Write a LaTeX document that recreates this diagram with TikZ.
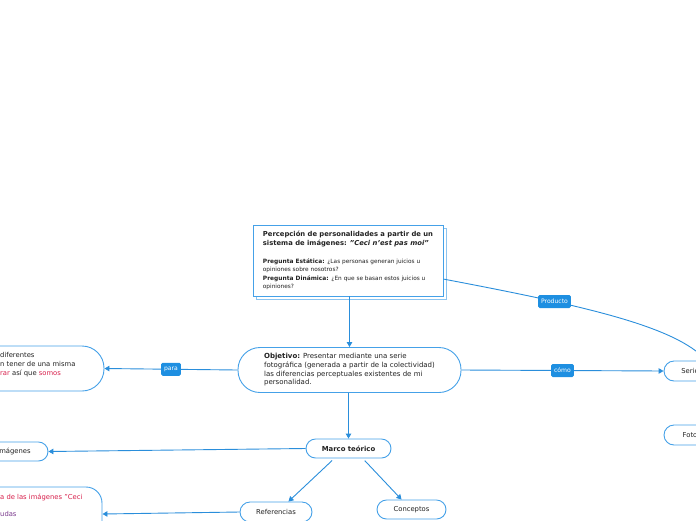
\documentclass[tikz,border=0pt]{standalone}
\usepackage{fontspec}
\setmainfont{DejaVu Sans}
\usetikzlibrary{arrows.meta,shadows}
\definecolor{nodeblue}{HTML}{45A1E8}
\definecolor{shadeblue}{HTML}{8CC4F0}
\definecolor{linkblue}{HTML}{2A8EDB}
\definecolor{tagblue}{HTML}{1E8FE1}
\definecolor{txtred}{HTML}{D8204C}
\definecolor{txtpurple}{HTML}{7B3A8E}
\definecolor{txtdark}{HTML}{222222}
\tikzset{
  pill/.style={draw=nodeblue, line width=0.9pt, fill=white, text=txtdark, inner sep=0pt,
    font=\fontsize{6.8}{8.7}\selectfont},
  topbox/.style={draw=nodeblue, line width=0.9pt, fill=white, text=txtdark, inner sep=0pt,
    font=\fontsize{6.8}{9}\selectfont,
    copy shadow={shadow xshift=3pt, shadow yshift=-3pt, draw=shadeblue, fill=white, line width=0.9pt}},
  link/.style={draw=linkblue, line width=0.9pt, -{Triangle[length=5pt,width=5.5pt]}},
  tag/.style={fill=tagblue, text=white, rounded corners=1.5pt, inner xsep=3pt, inner ysep=0pt,
    minimum height=13pt, font=\fontsize{6.1}{7}\selectfont},
  plaintext/.style={text=txtdark, inner sep=0pt, align=left, font=\fontsize{6.8}{8.7}\selectfont}
}
\begin{document}
\begin{tikzpicture}[x=1pt,y=-1pt]
\useasboundingbox (0,0) rectangle (696,520);
\clip (0,0) rectangle (696,520);

% main title box
\node[topbox, minimum width=190pt, minimum height=71pt, align=left] (top) at (348,260.5)
 {\bfseries Percepción de personalidades a partir de un\\
  \bfseries sistema de imágenes: \textit{"Ceci n'est pas moi"}\\[9pt]
  \fontsize{5.9}{9}\selectfont\bfseries Pregunta Estática: \mdseries\fontsize{5.8}{9}\selectfont ¿Las personas generan juicios u\\[-0.7pt]
  \fontsize{5.8}{9}\selectfont opiniones sobre nosotros?\\[-0.7pt]
  \fontsize{5.9}{9}\selectfont\bfseries Pregunta Dinámica: \mdseries\fontsize{5.8}{9}\selectfont ¿En que se basan estos juicios u\\[-0.7pt]
  \fontsize{5.8}{9}\selectfont opiniones?};

% objective
\node[pill, minimum width=223pt, minimum height=45pt, rounded corners=22pt, align=left,
      font=\fontsize{7}{8.7}\selectfont] (obj) at (349.5,370)
 {\textbf{Objetivo:} Presentar mediante una serie\\
  fotográfica (generada a partir de la colectividad)\\
  las diferencias perceptuales existentes de mi\\
  personalidad.};

% left node (cropped)
\node[pill, minimum width=224pt, minimum height=45pt, rounded corners=22pt] (lft) at (-8,368.5) {};
\node[plaintext, anchor=west] (lfttext) at (0,364.5)
 {diferentes\\ n tener de una misma\\ \textcolor{txtred}{rar} así que \textcolor{txtred}{somos}};

% right nodes (cropped)
\node[pill, minimum width=52pt, minimum height=20pt, rounded corners=10pt] (serie) at (690,371) {Serie};
\node[pill, minimum width=52pt, minimum height=20pt, rounded corners=10pt] (foto) at (690,435) {Foto};

% marco teorico
\node[pill, minimum width=85pt, minimum height=19pt, rounded corners=9.5pt, font=\fontsize{6.9}{8}\selectfont\bfseries] (marco) at (348.5,448.5) {Marco teórico};
\node[pill, minimum width=68pt, minimum height=19pt, rounded corners=9.5pt] (img) at (14,451.5) {imágenes};
\node[pill, minimum width=72pt, minimum height=20pt, rounded corners=10pt] (ref) at (276,512) {Referencias};
\node[pill, minimum width=69pt, minimum height=19pt, rounded corners=9.5pt] (conc) at (411.5,509.5) {Conceptos};
\node[pill, minimum width=250pt, minimum height=54pt, rounded corners=16pt] (bl) at (-23,514) {};
\node[plaintext, anchor=west] (bltext) at (0,505.5)
 {\textcolor{txtred}{a de las imágenes "Ceci}\\[8.3pt] \textcolor{txtpurple}{udas}};

% connectors
\draw[link] (obj.north |- top.south) -- (obj.north);
\draw[link] (obj.west) -- node[tag] (para) {para} (lft.east);
\draw[link] (obj.east) -- node[tag] (como) {cómo} (serie.west);
\draw[link] (top.-11) .. controls (580,305) and (670,325) .. (serie.32);
\node[tag] (prod) at (554.5,301.5) {Producto};
\draw[link] (marco.north |- obj.south) -- (marco.north);
\draw[link] (marco.west) -- (img.east);
\draw[link, shorten <=3pt] (marco.215) -- (ref.40);
\draw[link, shorten <=3pt] (marco.-35) -- (conc.135);
\draw[link] (ref.west) -- (bl.east);
\end{tikzpicture}
\end{document}
